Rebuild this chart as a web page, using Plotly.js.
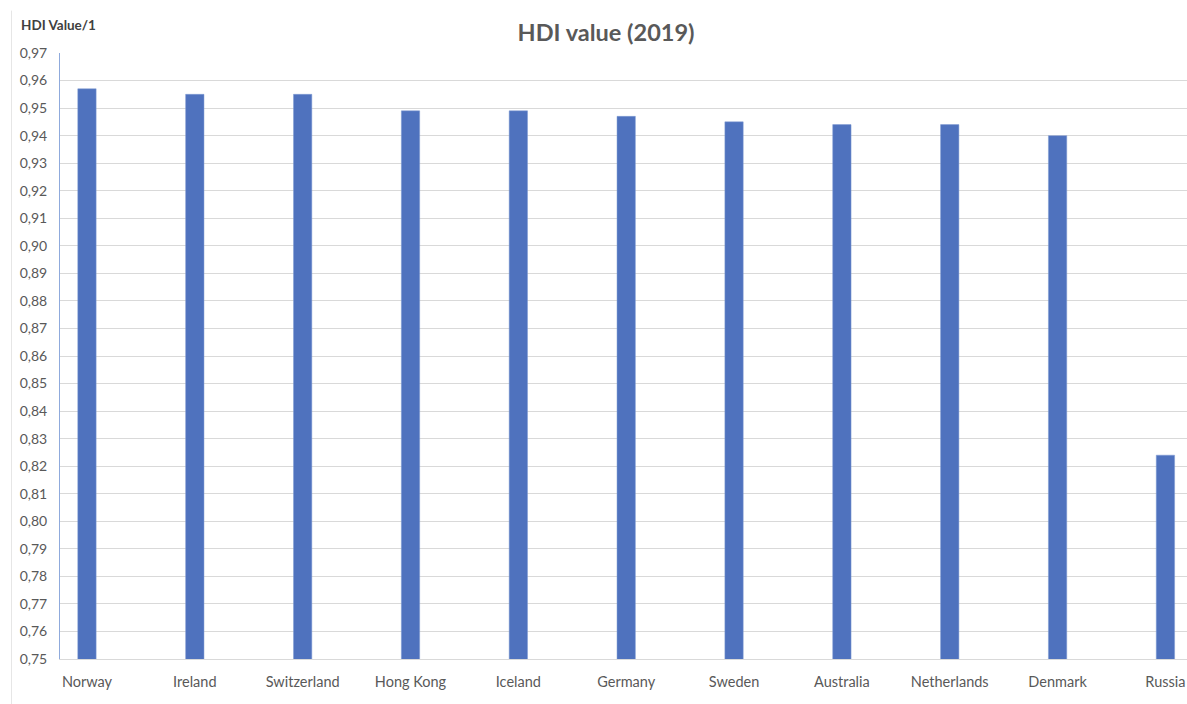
<!DOCTYPE html>
<html>
<head>
<meta charset="utf-8">
<script src="https://cdn.plot.ly/plotly-3.0.1.min.js"></script>
<style>html,body{margin:0;padding:0;background:#fff;}#chart{width:1187px;height:704px;}</style>
</head>
<body>
<div id="chart"></div>
<script>
const countries = ["Norway","Ireland","Switzerland","Hong Kong","Iceland","Germany","Sweden","Australia","Netherlands","Denmark","Russia"];
const hdiValues = [0.957,0.955,0.955,0.949,0.949,0.947,0.945,0.944,0.944,0.940,0.824];
const yTicks = [0.75,0.76,0.77,0.78,0.79,0.80,0.81,0.82,0.83,0.84,0.85,0.86,0.87,0.88,0.89,0.90,0.91,0.92,0.93,0.94,0.95,0.96,0.97];

const font = "Lato, 'Open Sans', sans-serif";
const trace = {
  type: "bar",
  x: countries,
  y: hdiValues,
  width: 0.17,
  marker: {color: "#4f72be", line: {color: "#7f9ad3", width: 0.5}},
  hoverinfo: "x+y"
};
const layout = {
  width: 1187, height: 704,
  margin: {l: 60, r: 0, t: 53, b: 45},
  paper_bgcolor: "#ffffff", plot_bgcolor: "#ffffff",
  separators: ",.",
  showlegend: false,
  font: {family: font, color: "#595959", size: 14},
  title: {text: "<b>HDI value (2019)</b>", x: 0.4845, xanchor: "center", xref: "paper", y: 0.953, yanchor: "middle", font: {size: 23.5, color: "#595959", family: font}},
  xaxis: {
    type: "category",
    range: [-0.25, 10.2],
    showgrid: false,
    showline: true, linecolor: "#d9d9d9", linewidth: 1,
    ticks: "", tickfont: {size: 14.5, color: "#595959"},
    ticklabelstandoff: 10
  },
  yaxis: {
    range: [0.75, 0.97],
    tickvals: yTicks,
    tickformat: ".2f",
    showgrid: true, gridcolor: "#d9d9d9", gridwidth: 1,
    showline: true, linecolor: "#8faadc", linewidth: 1,
    zeroline: false,
    ticks: "", tickfont: {size: 14, color: "#595959"},
    ticklabelstandoff: 9
  },
  annotations: [{
    text: "<b>HDI Value/1</b>", xref: "paper", yref: "paper",
    x: -0.036, y: 1.0, xanchor: "left", yanchor: "bottom", yshift: 18, showarrow: false,
    font: {size: 13.5, color: "#404040", family: font}
  }],
  shapes: [{type: "line", xref: "paper", yref: "paper", x0: -0.043, x1: -0.043, y0: -0.075, y1: 1.07, line: {color: "#e6e6e6", width: 1}}]
};
Plotly.newPlot("chart", [trace], layout, {displayModeBar: false, staticPlot: true});
</script>
</body>
</html>
